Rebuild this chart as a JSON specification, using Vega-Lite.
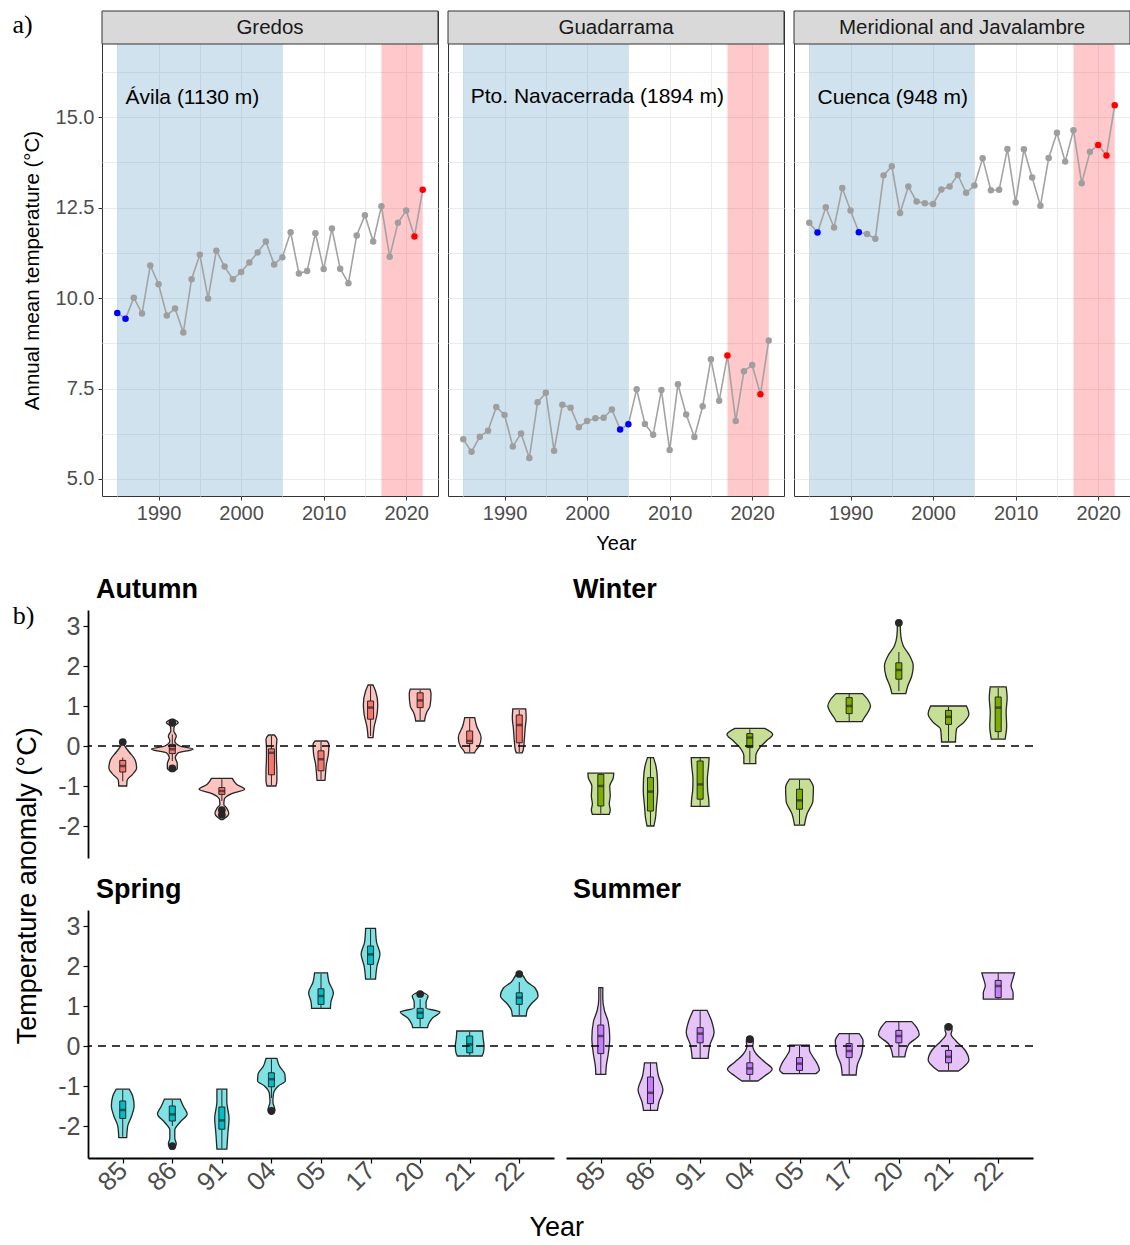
{
"$schema":"https://vega.github.io/schema/vega-lite/v6.json",
"padding":{"left":12,"top":10,"right":0,"bottom":0},
"config":{"font":"Liberation Sans","view":{"stroke":null},"axis":{"labelFont":"Liberation Sans","titleFont":"Liberation Sans"},"title":{"font":"Liberation Sans"}},
"datasets":{
"periods":[{"start":1985,"end":2005,"period":"reference"},{"start":2017,"end":2022,"period":"recent"}],
"temps":[
{"site":"Gredos","year":1985,"t":9.59,"kind":"cold"},{"site":"Gredos","year":1986,"t":9.43,"kind":"cold"},{"site":"Gredos","year":1987,"t":10.01,"kind":"other"},{"site":"Gredos","year":1988,"t":9.57,"kind":"other"},{"site":"Gredos","year":1989,"t":10.9,"kind":"other"},{"site":"Gredos","year":1990,"t":10.38,"kind":"other"},{"site":"Gredos","year":1991,"t":9.52,"kind":"other"},{"site":"Gredos","year":1992,"t":9.71,"kind":"other"},{"site":"Gredos","year":1993,"t":9.05,"kind":"other"},{"site":"Gredos","year":1994,"t":10.52,"kind":"other"},{"site":"Gredos","year":1995,"t":11.2,"kind":"other"},{"site":"Gredos","year":1996,"t":9.99,"kind":"other"},{"site":"Gredos","year":1997,"t":11.31,"kind":"other"},{"site":"Gredos","year":1998,"t":10.87,"kind":"other"},{"site":"Gredos","year":1999,"t":10.52,"kind":"other"},{"site":"Gredos","year":2000,"t":10.72,"kind":"other"},{"site":"Gredos","year":2001,"t":10.98,"kind":"other"},{"site":"Gredos","year":2002,"t":11.26,"kind":"other"},{"site":"Gredos","year":2003,"t":11.56,"kind":"other"},{"site":"Gredos","year":2004,"t":10.93,"kind":"other"},{"site":"Gredos","year":2005,"t":11.13,"kind":"other"},{"site":"Gredos","year":2006,"t":11.82,"kind":"other"},{"site":"Gredos","year":2007,"t":10.68,"kind":"other"},{"site":"Gredos","year":2008,"t":10.75,"kind":"other"},{"site":"Gredos","year":2009,"t":11.79,"kind":"other"},{"site":"Gredos","year":2010,"t":10.8,"kind":"other"},{"site":"Gredos","year":2011,"t":11.92,"kind":"other"},{"site":"Gredos","year":2012,"t":10.81,"kind":"other"},{"site":"Gredos","year":2013,"t":10.41,"kind":"other"},{"site":"Gredos","year":2014,"t":11.73,"kind":"other"},{"site":"Gredos","year":2015,"t":12.29,"kind":"other"},{"site":"Gredos","year":2016,"t":11.56,"kind":"other"},{"site":"Gredos","year":2017,"t":12.54,"kind":"other"},{"site":"Gredos","year":2018,"t":11.14,"kind":"other"},{"site":"Gredos","year":2019,"t":12.08,"kind":"other"},{"site":"Gredos","year":2020,"t":12.42,"kind":"other"},{"site":"Gredos","year":2021,"t":11.7,"kind":"warm"},{"site":"Gredos","year":2022,"t":12.99,"kind":"warm"},
{"site":"Guadarrama","year":1985,"t":6.1,"kind":"other"},{"site":"Guadarrama","year":1986,"t":5.75,"kind":"other"},{"site":"Guadarrama","year":1987,"t":6.17,"kind":"other"},{"site":"Guadarrama","year":1988,"t":6.33,"kind":"other"},{"site":"Guadarrama","year":1989,"t":6.99,"kind":"other"},{"site":"Guadarrama","year":1990,"t":6.77,"kind":"other"},{"site":"Guadarrama","year":1991,"t":5.9,"kind":"other"},{"site":"Guadarrama","year":1992,"t":6.26,"kind":"other"},{"site":"Guadarrama","year":1993,"t":5.58,"kind":"other"},{"site":"Guadarrama","year":1994,"t":7.12,"kind":"other"},{"site":"Guadarrama","year":1995,"t":7.38,"kind":"other"},{"site":"Guadarrama","year":1996,"t":5.78,"kind":"other"},{"site":"Guadarrama","year":1997,"t":7.05,"kind":"other"},{"site":"Guadarrama","year":1998,"t":6.97,"kind":"other"},{"site":"Guadarrama","year":1999,"t":6.43,"kind":"other"},{"site":"Guadarrama","year":2000,"t":6.6,"kind":"other"},{"site":"Guadarrama","year":2001,"t":6.68,"kind":"other"},{"site":"Guadarrama","year":2002,"t":6.69,"kind":"other"},{"site":"Guadarrama","year":2003,"t":6.92,"kind":"other"},{"site":"Guadarrama","year":2004,"t":6.37,"kind":"cold"},{"site":"Guadarrama","year":2005,"t":6.51,"kind":"cold"},{"site":"Guadarrama","year":2006,"t":7.48,"kind":"other"},{"site":"Guadarrama","year":2007,"t":6.52,"kind":"other"},{"site":"Guadarrama","year":2008,"t":6.22,"kind":"other"},{"site":"Guadarrama","year":2009,"t":7.46,"kind":"other"},{"site":"Guadarrama","year":2010,"t":5.8,"kind":"other"},{"site":"Guadarrama","year":2011,"t":7.62,"kind":"other"},{"site":"Guadarrama","year":2012,"t":6.78,"kind":"other"},{"site":"Guadarrama","year":2013,"t":6.16,"kind":"other"},{"site":"Guadarrama","year":2014,"t":7.01,"kind":"other"},{"site":"Guadarrama","year":2015,"t":8.31,"kind":"other"},{"site":"Guadarrama","year":2016,"t":7.16,"kind":"other"},{"site":"Guadarrama","year":2017,"t":8.41,"kind":"warm"},{"site":"Guadarrama","year":2018,"t":6.6,"kind":"other"},{"site":"Guadarrama","year":2019,"t":7.98,"kind":"other"},{"site":"Guadarrama","year":2020,"t":8.15,"kind":"other"},{"site":"Guadarrama","year":2021,"t":7.34,"kind":"warm"},{"site":"Guadarrama","year":2022,"t":8.83,"kind":"other"},
{"site":"Meridional","year":1985,"t":12.08,"kind":"other"},{"site":"Meridional","year":1986,"t":11.81,"kind":"cold"},{"site":"Meridional","year":1987,"t":12.51,"kind":"other"},{"site":"Meridional","year":1988,"t":11.95,"kind":"other"},{"site":"Meridional","year":1989,"t":13.04,"kind":"other"},{"site":"Meridional","year":1990,"t":12.42,"kind":"other"},{"site":"Meridional","year":1991,"t":11.82,"kind":"cold"},{"site":"Meridional","year":1992,"t":11.77,"kind":"other"},{"site":"Meridional","year":1993,"t":11.64,"kind":"other"},{"site":"Meridional","year":1994,"t":13.39,"kind":"other"},{"site":"Meridional","year":1995,"t":13.64,"kind":"other"},{"site":"Meridional","year":1996,"t":12.35,"kind":"other"},{"site":"Meridional","year":1997,"t":13.08,"kind":"other"},{"site":"Meridional","year":1998,"t":12.67,"kind":"other"},{"site":"Meridional","year":1999,"t":12.62,"kind":"other"},{"site":"Meridional","year":2000,"t":12.6,"kind":"other"},{"site":"Meridional","year":2001,"t":13.0,"kind":"other"},{"site":"Meridional","year":2002,"t":13.08,"kind":"other"},{"site":"Meridional","year":2003,"t":13.4,"kind":"other"},{"site":"Meridional","year":2004,"t":12.91,"kind":"other"},{"site":"Meridional","year":2005,"t":13.11,"kind":"other"},{"site":"Meridional","year":2006,"t":13.86,"kind":"other"},{"site":"Meridional","year":2007,"t":12.98,"kind":"other"},{"site":"Meridional","year":2008,"t":12.99,"kind":"other"},{"site":"Meridional","year":2009,"t":14.12,"kind":"other"},{"site":"Meridional","year":2010,"t":12.64,"kind":"other"},{"site":"Meridional","year":2011,"t":14.11,"kind":"other"},{"site":"Meridional","year":2012,"t":13.33,"kind":"other"},{"site":"Meridional","year":2013,"t":12.55,"kind":"other"},{"site":"Meridional","year":2014,"t":13.87,"kind":"other"},{"site":"Meridional","year":2015,"t":14.57,"kind":"other"},{"site":"Meridional","year":2016,"t":13.77,"kind":"other"},{"site":"Meridional","year":2017,"t":14.64,"kind":"other"},{"site":"Meridional","year":2018,"t":13.17,"kind":"other"},{"site":"Meridional","year":2019,"t":14.04,"kind":"other"},{"site":"Meridional","year":2020,"t":14.23,"kind":"warm"},{"site":"Meridional","year":2021,"t":13.94,"kind":"warm"},{"site":"Meridional","year":2022,"t":15.33,"kind":"warm"}
],
"violin":[
{"season":"Autumn","year":"85","v":0.12,"w":0.01},{"season":"Autumn","year":"85","v":0.0,"w":0.04},{"season":"Autumn","year":"85","v":-0.15,"w":0.13},{"season":"Autumn","year":"85","v":-0.35,"w":0.25},{"season":"Autumn","year":"85","v":-0.55,"w":0.28},{"season":"Autumn","year":"85","v":-0.72,"w":0.19},{"season":"Autumn","year":"85","v":-0.85,"w":0.09},{"season":"Autumn","year":"85","v":-1.0,"w":0.08},
{"season":"Autumn","year":"86","v":0.67,"w":0.02},{"season":"Autumn","year":"86","v":0.58,"w":0.12},{"season":"Autumn","year":"86","v":0.5,"w":0.04},{"season":"Autumn","year":"86","v":0.375,"w":0.03},{"season":"Autumn","year":"86","v":0.25,"w":0.08},{"season":"Autumn","year":"86","v":0.125,"w":0.05},{"season":"Autumn","year":"86","v":0.0,"w":0.15},{"season":"Autumn","year":"86","v":-0.08,"w":0.42},{"season":"Autumn","year":"86","v":-0.17,"w":0.12},{"season":"Autumn","year":"86","v":-0.29,"w":0.06},{"season":"Autumn","year":"86","v":-0.44,"w":0.1},{"season":"Autumn","year":"86","v":-0.56,"w":0.1},{"season":"Autumn","year":"86","v":-0.625,"w":0.03},
{"season":"Autumn","year":"91","v":-0.81,"w":0.21},{"season":"Autumn","year":"91","v":-0.96,"w":0.3},{"season":"Autumn","year":"91","v":-1.08,"w":0.46},{"season":"Autumn","year":"91","v":-1.19,"w":0.2},{"season":"Autumn","year":"91","v":-1.33,"w":0.05},{"season":"Autumn","year":"91","v":-1.46,"w":0.04},{"season":"Autumn","year":"91","v":-1.56,"w":0.1},{"season":"Autumn","year":"91","v":-1.69,"w":0.14},{"season":"Autumn","year":"91","v":-1.79,"w":0.08},{"season":"Autumn","year":"91","v":-1.84,"w":0.02},
{"season":"Autumn","year":"04","v":0.275,"w":0.06},{"season":"Autumn","year":"04","v":0.17,"w":0.11},{"season":"Autumn","year":"04","v":-0.04,"w":0.1},{"season":"Autumn","year":"04","v":-0.29,"w":0.1},{"season":"Autumn","year":"04","v":-0.625,"w":0.11},{"season":"Autumn","year":"04","v":-0.875,"w":0.11},{"season":"Autumn","year":"04","v":-1.0,"w":0.09},
{"season":"Autumn","year":"05","v":0.125,"w":0.12},{"season":"Autumn","year":"05","v":0.04,"w":0.16},{"season":"Autumn","year":"05","v":-0.2,"w":0.15},{"season":"Autumn","year":"05","v":-0.45,"w":0.11},{"season":"Autumn","year":"05","v":-0.7,"w":0.09},{"season":"Autumn","year":"05","v":-0.86,"w":0.08},
{"season":"Autumn","year":"17","v":1.525,"w":0.05},{"season":"Autumn","year":"17","v":1.375,"w":0.1},{"season":"Autumn","year":"17","v":1.04,"w":0.145},{"season":"Autumn","year":"17","v":0.79,"w":0.13},{"season":"Autumn","year":"17","v":0.46,"w":0.07},{"season":"Autumn","year":"17","v":0.21,"w":0.05},
{"season":"Autumn","year":"20","v":1.42,"w":0.2},{"season":"Autumn","year":"20","v":1.3,"w":0.22},{"season":"Autumn","year":"20","v":1.0,"w":0.2},{"season":"Autumn","year":"20","v":0.83,"w":0.13},{"season":"Autumn","year":"20","v":0.71,"w":0.1},{"season":"Autumn","year":"20","v":0.625,"w":0.09},
{"season":"Autumn","year":"21","v":0.71,"w":0.1},{"season":"Autumn","year":"21","v":0.5,"w":0.14},{"season":"Autumn","year":"21","v":0.21,"w":0.23},{"season":"Autumn","year":"21","v":0.0,"w":0.19},{"season":"Autumn","year":"21","v":-0.12,"w":0.12},{"season":"Autumn","year":"21","v":-0.17,"w":0.1},
{"season":"Autumn","year":"22","v":0.93,"w":0.13},{"season":"Autumn","year":"22","v":0.7,"w":0.14},{"season":"Autumn","year":"22","v":0.46,"w":0.12},{"season":"Autumn","year":"22","v":0.125,"w":0.1},{"season":"Autumn","year":"22","v":-0.1,"w":0.08},{"season":"Autumn","year":"22","v":-0.17,"w":0.06},
{"season":"Winter","year":"85","v":-0.68,"w":0.26},{"season":"Winter","year":"85","v":-0.8,"w":0.25},{"season":"Winter","year":"85","v":-1.0,"w":0.18},{"season":"Winter","year":"85","v":-1.25,"w":0.19},{"season":"Winter","year":"85","v":-1.45,"w":0.17},{"season":"Winter","year":"85","v":-1.6,"w":0.19},{"season":"Winter","year":"85","v":-1.71,"w":0.17},
{"season":"Winter","year":"86","v":-0.29,"w":0.06},{"season":"Winter","year":"86","v":-0.5,"w":0.11},{"season":"Winter","year":"86","v":-0.83,"w":0.14},{"season":"Winter","year":"86","v":-1.125,"w":0.145},{"season":"Winter","year":"86","v":-1.5,"w":0.12},{"season":"Winter","year":"86","v":-1.8,"w":0.1},{"season":"Winter","year":"86","v":-2.0,"w":0.07},
{"season":"Winter","year":"91","v":-0.29,"w":0.18},{"season":"Winter","year":"91","v":-0.5,"w":0.17},{"season":"Winter","year":"91","v":-0.83,"w":0.145},{"season":"Winter","year":"91","v":-1.1,"w":0.15},{"season":"Winter","year":"91","v":-1.3,"w":0.17},{"season":"Winter","year":"91","v":-1.51,"w":0.18},
{"season":"Winter","year":"04","v":0.44,"w":0.3},{"season":"Winter","year":"04","v":0.29,"w":0.46},{"season":"Winter","year":"04","v":0.125,"w":0.33},{"season":"Winter","year":"04","v":-0.04,"w":0.2},{"season":"Winter","year":"04","v":-0.25,"w":0.12},{"season":"Winter","year":"04","v":-0.44,"w":0.12},
{"season":"Winter","year":"05","v":-0.83,"w":0.2},{"season":"Winter","year":"05","v":-1.04,"w":0.28},{"season":"Winter","year":"05","v":-1.375,"w":0.27},{"season":"Winter","year":"05","v":-1.7,"w":0.15},{"season":"Winter","year":"05","v":-1.98,"w":0.1},
{"season":"Winter","year":"17","v":1.31,"w":0.27},{"season":"Winter","year":"17","v":1.15,"w":0.38},{"season":"Winter","year":"17","v":1.0,"w":0.43},{"season":"Winter","year":"17","v":0.85,"w":0.38},{"season":"Winter","year":"17","v":0.7,"w":0.3},{"season":"Winter","year":"17","v":0.61,"w":0.26},
{"season":"Winter","year":"20","v":3.1,"w":0.03},{"season":"Winter","year":"20","v":3.0,"w":0.03},{"season":"Winter","year":"20","v":2.75,"w":0.04},{"season":"Winter","year":"20","v":2.5,"w":0.09},{"season":"Winter","year":"20","v":2.25,"w":0.22},{"season":"Winter","year":"20","v":2.0,"w":0.29},{"season":"Winter","year":"20","v":1.75,"w":0.26},{"season":"Winter","year":"20","v":1.5,"w":0.18},{"season":"Winter","year":"20","v":1.31,"w":0.14},
{"season":"Winter","year":"21","v":1.0,"w":0.36},{"season":"Winter","year":"21","v":0.8,"w":0.41},{"season":"Winter","year":"21","v":0.58,"w":0.3},{"season":"Winter","year":"21","v":0.42,"w":0.16},{"season":"Winter","year":"21","v":0.1,"w":0.14},
{"season":"Winter","year":"22","v":1.48,"w":0.16},{"season":"Winter","year":"22","v":1.2,"w":0.18},{"season":"Winter","year":"22","v":0.85,"w":0.16},{"season":"Winter","year":"22","v":0.5,"w":0.17},{"season":"Winter","year":"22","v":0.17,"w":0.14},
{"season":"Spring","year":"85","v":-1.08,"w":0.13},{"season":"Spring","year":"85","v":-1.25,"w":0.2},{"season":"Spring","year":"85","v":-1.5,"w":0.23},{"season":"Spring","year":"85","v":-1.75,"w":0.18},{"season":"Spring","year":"85","v":-2.0,"w":0.1},{"season":"Spring","year":"85","v":-2.29,"w":0.08},
{"season":"Spring","year":"86","v":-1.33,"w":0.16},{"season":"Spring","year":"86","v":-1.5,"w":0.22},{"season":"Spring","year":"86","v":-1.7,"w":0.3},{"season":"Spring","year":"86","v":-1.9,"w":0.16},{"season":"Spring","year":"86","v":-2.1,"w":0.05},{"season":"Spring","year":"86","v":-2.3,"w":0.05},{"season":"Spring","year":"86","v":-2.45,"w":0.08},{"season":"Spring","year":"86","v":-2.58,"w":0.03},
{"season":"Spring","year":"91","v":-1.08,"w":0.1},{"season":"Spring","year":"91","v":-1.4,"w":0.1},{"season":"Spring","year":"91","v":-1.8,"w":0.145},{"season":"Spring","year":"91","v":-2.2,"w":0.12},{"season":"Spring","year":"91","v":-2.58,"w":0.1},
{"season":"Spring","year":"04","v":-0.31,"w":0.11},{"season":"Spring","year":"04","v":-0.5,"w":0.16},{"season":"Spring","year":"04","v":-0.7,"w":0.27},{"season":"Spring","year":"04","v":-0.875,"w":0.28},{"season":"Spring","year":"04","v":-1.0,"w":0.14},{"season":"Spring","year":"04","v":-1.2,"w":0.04},{"season":"Spring","year":"04","v":-1.4,"w":0.03},{"season":"Spring","year":"04","v":-1.6,"w":0.07},{"season":"Spring","year":"04","v":-1.7,"w":0.02},
{"season":"Spring","year":"05","v":1.83,"w":0.13},{"season":"Spring","year":"05","v":1.6,"w":0.16},{"season":"Spring","year":"05","v":1.33,"w":0.25},{"season":"Spring","year":"05","v":1.1,"w":0.2},{"season":"Spring","year":"05","v":0.94,"w":0.19},
{"season":"Spring","year":"17","v":2.94,"w":0.1},{"season":"Spring","year":"17","v":2.6,"w":0.12},{"season":"Spring","year":"17","v":2.3,"w":0.19},{"season":"Spring","year":"17","v":2.0,"w":0.13},{"season":"Spring","year":"17","v":1.67,"w":0.1},
{"season":"Spring","year":"20","v":1.35,"w":0.03},{"season":"Spring","year":"20","v":1.25,"w":0.16},{"season":"Spring","year":"20","v":1.1,"w":0.12},{"season":"Spring","year":"20","v":0.95,"w":0.12},{"season":"Spring","year":"20","v":0.85,"w":0.4},{"season":"Spring","year":"20","v":0.7,"w":0.25},{"season":"Spring","year":"20","v":0.55,"w":0.17},{"season":"Spring","year":"20","v":0.46,"w":0.15},
{"season":"Spring","year":"21","v":0.375,"w":0.26},{"season":"Spring","year":"21","v":0.2,"w":0.27},{"season":"Spring","year":"21","v":0.0,"w":0.29},{"season":"Spring","year":"21","v":-0.15,"w":0.28},{"season":"Spring","year":"21","v":-0.25,"w":0.25},
{"season":"Spring","year":"22","v":1.83,"w":0.03},{"season":"Spring","year":"22","v":1.75,"w":0.08},{"season":"Spring","year":"22","v":1.6,"w":0.16},{"season":"Spring","year":"22","v":1.45,"w":0.32},{"season":"Spring","year":"22","v":1.25,"w":0.38},{"season":"Spring","year":"22","v":1.05,"w":0.24},{"season":"Spring","year":"22","v":0.9,"w":0.16},{"season":"Spring","year":"22","v":0.75,"w":0.14},
{"season":"Summer","year":"85","v":1.46,"w":0.04},{"season":"Summer","year":"85","v":1.2,"w":0.04},{"season":"Summer","year":"85","v":0.9,"w":0.07},{"season":"Summer","year":"85","v":0.6,"w":0.15},{"season":"Summer","year":"85","v":0.2,"w":0.18},{"season":"Summer","year":"85","v":-0.2,"w":0.15},{"season":"Summer","year":"85","v":-0.5,"w":0.11},{"season":"Summer","year":"85","v":-0.71,"w":0.1},
{"season":"Summer","year":"86","v":-0.42,"w":0.12},{"season":"Summer","year":"86","v":-0.75,"w":0.16},{"season":"Summer","year":"86","v":-1.1,"w":0.25},{"season":"Summer","year":"86","v":-1.4,"w":0.17},{"season":"Summer","year":"86","v":-1.61,"w":0.14},
{"season":"Summer","year":"91","v":0.89,"w":0.14},{"season":"Summer","year":"91","v":0.625,"w":0.23},{"season":"Summer","year":"91","v":0.33,"w":0.28},{"season":"Summer","year":"91","v":0.04,"w":0.2},{"season":"Summer","year":"91","v":-0.31,"w":0.16},
{"season":"Summer","year":"04","v":0.2,"w":0.06},{"season":"Summer","year":"04","v":0.1,"w":0.07},{"season":"Summer","year":"04","v":0.0,"w":0.06},{"season":"Summer","year":"04","v":-0.2,"w":0.13},{"season":"Summer","year":"04","v":-0.4,"w":0.3},{"season":"Summer","year":"04","v":-0.58,"w":0.45},{"season":"Summer","year":"04","v":-0.75,"w":0.3},{"season":"Summer","year":"04","v":-0.875,"w":0.16},
{"season":"Summer","year":"05","v":0.02,"w":0.2},{"season":"Summer","year":"05","v":-0.1,"w":0.2},{"season":"Summer","year":"05","v":-0.25,"w":0.26},{"season":"Summer","year":"05","v":-0.45,"w":0.36},{"season":"Summer","year":"05","v":-0.6,"w":0.4},{"season":"Summer","year":"05","v":-0.69,"w":0.33},
{"season":"Summer","year":"17","v":0.31,"w":0.2},{"season":"Summer","year":"17","v":0.125,"w":0.28},{"season":"Summer","year":"17","v":-0.2,"w":0.25},{"season":"Summer","year":"17","v":-0.45,"w":0.17},{"season":"Summer","year":"17","v":-0.725,"w":0.14},
{"season":"Summer","year":"20","v":0.61,"w":0.26},{"season":"Summer","year":"20","v":0.46,"w":0.36},{"season":"Summer","year":"20","v":0.29,"w":0.41},{"season":"Summer","year":"20","v":0.04,"w":0.2},{"season":"Summer","year":"20","v":-0.27,"w":0.12},
{"season":"Summer","year":"21","v":0.5,"w":0.07},{"season":"Summer","year":"21","v":0.4,"w":0.07},{"season":"Summer","year":"21","v":0.3,"w":0.05},{"season":"Summer","year":"21","v":0.125,"w":0.15},{"season":"Summer","year":"21","v":-0.1,"w":0.33},{"season":"Summer","year":"21","v":-0.35,"w":0.41},{"season":"Summer","year":"21","v":-0.55,"w":0.28},{"season":"Summer","year":"21","v":-0.625,"w":0.2},
{"season":"Summer","year":"22","v":1.83,"w":0.33},{"season":"Summer","year":"22","v":1.7,"w":0.3},{"season":"Summer","year":"22","v":1.5,"w":0.26},{"season":"Summer","year":"22","v":1.33,"w":0.3},{"season":"Summer","year":"22","v":1.17,"w":0.3}
],
"box":[
{"season":"Autumn","year":"85","lw":-0.88,"q1":-0.65,"med":-0.5,"q3":-0.36,"uw":-0.29},{"season":"Autumn","year":"86","lw":-0.375,"q1":-0.19,"med":-0.08,"q3":0.04,"uw":0.29},{"season":"Autumn","year":"91","lw":-1.375,"q1":-1.21,"med":-1.125,"q3":-1.04,"uw":-0.83},{"season":"Autumn","year":"04","lw":-0.98,"q1":-0.72,"med":-0.17,"q3":-0.07,"uw":0.25},{"season":"Autumn","year":"05","lw":-0.84,"q1":-0.62,"med":-0.33,"q3":-0.12,"uw":0.1},{"season":"Autumn","year":"17","lw":0.25,"q1":0.67,"med":0.96,"q3":1.125,"uw":1.5},{"season":"Autumn","year":"20","lw":0.65,"q1":0.96,"med":1.14,"q3":1.33,"uw":1.4},{"season":"Autumn","year":"21","lw":-0.15,"q1":0.06,"med":0.125,"q3":0.375,"uw":0.69},{"season":"Autumn","year":"22","lw":-0.15,"q1":0.08,"med":0.525,"q3":0.775,"uw":0.9},
{"season":"Winter","year":"85","lw":-1.69,"q1":-1.5,"med":-1.0,"q3":-0.71,"uw":-0.7},{"season":"Winter","year":"86","lw":-1.98,"q1":-1.625,"med":-1.14,"q3":-0.79,"uw":-0.3},{"season":"Winter","year":"91","lw":-1.5,"q1":-1.33,"med":-0.96,"q3":-0.375,"uw":-0.3},{"season":"Winter","year":"04","lw":-0.42,"q1":-0.04,"med":0.21,"q3":0.31,"uw":0.42},{"season":"Winter","year":"05","lw":-1.96,"q1":-1.58,"med":-1.36,"q3":-1.08,"uw":-0.85},{"season":"Winter","year":"17","lw":0.62,"q1":0.81,"med":1.0,"q3":1.21,"uw":1.3},{"season":"Winter","year":"20","lw":1.375,"q1":1.67,"med":1.9,"q3":2.08,"uw":2.35},{"season":"Winter","year":"21","lw":0.12,"q1":0.54,"med":0.73,"q3":0.89,"uw":0.98},{"season":"Winter","year":"22","lw":0.19,"q1":0.36,"med":0.96,"q3":1.225,"uw":1.46},
{"season":"Spring","year":"85","lw":-2.27,"q1":-1.81,"med":-1.6,"q3":-1.375,"uw":-1.1},{"season":"Spring","year":"86","lw":-2.0,"q1":-1.875,"med":-1.71,"q3":-1.5,"uw":-1.35},{"season":"Spring","year":"91","lw":-2.56,"q1":-2.08,"med":-1.86,"q3":-1.525,"uw":-1.1},{"season":"Spring","year":"04","lw":-1.3,"q1":-1.02,"med":-0.83,"q3":-0.67,"uw":-0.33},{"season":"Spring","year":"05","lw":0.95,"q1":1.04,"med":1.25,"q3":1.43,"uw":1.81},{"season":"Spring","year":"17","lw":1.69,"q1":2.04,"med":2.29,"q3":2.5,"uw":2.92},{"season":"Spring","year":"20","lw":0.48,"q1":0.69,"med":0.83,"q3":0.94,"uw":1.17},{"season":"Spring","year":"21","lw":-0.23,"q1":-0.17,"med":0.04,"q3":0.25,"uw":0.36},{"season":"Spring","year":"22","lw":0.77,"q1":1.04,"med":1.21,"q3":1.33,"uw":1.6},
{"season":"Summer","year":"85","lw":-0.7,"q1":-0.19,"med":0.25,"q3":0.525,"uw":1.45},{"season":"Summer","year":"86","lw":-1.6,"q1":-1.44,"med":-1.17,"q3":-0.775,"uw":-0.43},{"season":"Summer","year":"91","lw":-0.3,"q1":0.08,"med":0.31,"q3":0.46,"uw":0.87},{"season":"Summer","year":"04","lw":-0.86,"q1":-0.71,"med":-0.56,"q3":-0.42,"uw":-0.125},{"season":"Summer","year":"05","lw":-0.68,"q1":-0.61,"med":-0.44,"q3":-0.29,"uw":0.0},{"season":"Summer","year":"17","lw":-0.71,"q1":-0.29,"med":-0.125,"q3":0.06,"uw":0.3},{"season":"Summer","year":"20","lw":-0.26,"q1":0.08,"med":0.25,"q3":0.39,"uw":0.6},{"season":"Summer","year":"21","lw":-0.61,"q1":-0.42,"med":-0.27,"q3":-0.11,"uw":0.0},{"season":"Summer","year":"22","lw":1.18,"q1":1.21,"med":1.5,"q3":1.64,"uw":1.82}
],
"outliers":[
{"season":"Autumn","year":"85","v":0.1},{"season":"Autumn","year":"86","v":0.58},{"season":"Autumn","year":"86","v":-0.56},{"season":"Autumn","year":"91","v":-1.6},{"season":"Autumn","year":"91","v":-1.72},
{"season":"Winter","year":"20","v":3.08},
{"season":"Spring","year":"86","v":-2.5},{"season":"Spring","year":"04","v":-1.62},{"season":"Spring","year":"20","v":1.3},{"season":"Spring","year":"22","v":1.8},
{"season":"Summer","year":"04","v":0.17},{"season":"Summer","year":"21","v":0.48}
]
},
"spacing":22,
"vconcat":[
{"bounds":"flush","spacing":10,
 "title":{"text":"a)","orient":"top","anchor":"start","font":"Liberation Serif","fontSize":26,"fontWeight":"normal","color":"black","offset":-28,"dx":-9},
 "hconcat":[
 {"width":4,"height":10,"data":{"values":[{"blank":""}]},"mark":{"type":"text"},"encoding":{"text":{"field":"blank"}}},
 {"width":336,"height":485,"view":{"stroke":"#333333","strokeWidth":1},
  "resolve":{"axis":{"x":"independent","y":"independent"},"scale":{"color":"independent"}},
  "layer":[
   {"data":{"name":"periods"},"mark":{"type":"rect","opacity":0.3},"encoding":{"x":{"field":"start","type":"quantitative","scale":{"domain":[1983.15,2023.85],"nice":false,"zero":false},"axis":{"orient":"top","values":[1985,1990,1995,2000,2005,2010,2015,2020],"grid":true,"gridColor":"#EBEBEB","gridWidth":1,"labels":false,"ticks":false,"domain":false,"title":null}},"x2":{"field":"end"},"color":{"field":"period","type":"nominal","scale":{"domain":["reference","recent"],"range":["#629EC6","#FF4852"]},"legend":null}}},
   {"data":{"name":"temps"},"transform":[{"filter":"datum.site === 'Gredos'"}],"mark":{"type":"line","color":"#A3A3A3","strokeWidth":1.6},"encoding":{"x":{"field":"year","type":"quantitative","scale":{"domain":[1983.15,2023.85],"nice":false,"zero":false},"axis":{"orient":"bottom","values":[1990,2000,2010,2020],"format":"d","grid":false,"domain":false,"tickColor":"#333333","tickSize":4,"labelFontSize":20,"labelColor":"#4D4D4D","labelPadding":3,"title":null}},"y":{"field":"t","type":"quantitative","scale":{"domain":[4.53,17.932],"nice":false,"zero":false},"axis":{"orient":"left","values":[5,7.5,10,12.5,15],"format":".1f","grid":false,"domain":false,"tickColor":"#333333","tickSize":4,"labelFontSize":20,"labelColor":"#4D4D4D","labelPadding":4,"title":"Annual mean temperature (°C)","titleFontSize":20.5,"titleFontWeight":"normal","titleColor":"black","titlePadding":13,"titleY":259}}}},
   {"data":{"name":"temps"},"transform":[{"filter":"datum.site === 'Gredos'"}],"mark":{"type":"point","filled":true,"size":42,"opacity":1},"encoding":{"x":{"field":"year","type":"quantitative","scale":{"domain":[1983.15,2023.85],"nice":false,"zero":false},"axis":null},"y":{"field":"t","type":"quantitative","scale":{"domain":[4.53,17.932],"nice":false,"zero":false},"axis":{"orient":"right","values":[5,6.25,7.5,8.75,10,11.25,12.5,13.75,15,16.25],"grid":true,"gridColor":"#EBEBEB","gridWidth":1,"labels":false,"ticks":false,"domain":false,"title":null}},"color":{"field":"kind","type":"nominal","scale":{"domain":["cold","other","warm"],"range":["#0000FF","#9E9E9E","#FF0000"]},"legend":null}}},
   {"data":{"values":[{"region":"Gredos"}]},"mark":{"type":"rect","fill":"#D9D9D9","stroke":"#333333","strokeWidth":1},"encoding":{"y":{"datum":17.02,"type":"quantitative","axis":null},"y2":{"datum":17.932}}},
   {"data":{"values":[{"region":"Gredos"}]},"mark":{"type":"text","fontSize":20.5,"color":"#1A1A1A","baseline":"middle","align":"center"},"encoding":{"x":{"datum":2003.5,"type":"quantitative","axis":null},"y":{"datum":17.476,"type":"quantitative","axis":null},"text":{"field":"region"}}},
   {"data":{"values":[{"station":"Ávila (1130 m)"}]},"mark":{"type":"text","align":"left","baseline":"middle","fontSize":21,"color":"black"},"encoding":{"x":{"datum":1986,"type":"quantitative","axis":null},"y":{"datum":15.53,"type":"quantitative","axis":null},"text":{"field":"station"}}}
  ]},
 {"width":336,"height":485,"view":{"stroke":"#333333","strokeWidth":1},
  "resolve":{"axis":{"x":"independent","y":"independent"},"scale":{"color":"independent"}},
  "layer":[
   {"data":{"name":"periods"},"mark":{"type":"rect","opacity":0.3},"encoding":{"x":{"field":"start","type":"quantitative","scale":{"domain":[1983.15,2023.85],"nice":false,"zero":false},"axis":{"orient":"top","values":[1985,1990,1995,2000,2005,2010,2015,2020],"grid":true,"gridColor":"#EBEBEB","gridWidth":1,"labels":false,"ticks":false,"domain":false,"title":null}},"x2":{"field":"end"},"color":{"field":"period","type":"nominal","scale":{"domain":["reference","recent"],"range":["#629EC6","#FF4852"]},"legend":null}}},
   {"data":{"name":"temps"},"transform":[{"filter":"datum.site === 'Guadarrama'"}],"mark":{"type":"line","color":"#A3A3A3","strokeWidth":1.6},"encoding":{"x":{"field":"year","type":"quantitative","scale":{"domain":[1983.15,2023.85],"nice":false,"zero":false},"axis":{"orient":"bottom","values":[1990,2000,2010,2020],"format":"d","grid":false,"domain":false,"tickColor":"#333333","tickSize":4,"labelFontSize":20,"labelColor":"#4D4D4D","labelPadding":3,"title":"Year","titleFontSize":20,"titleFontWeight":"normal","titleColor":"black","titlePadding":10}},"y":{"field":"t","type":"quantitative","scale":{"domain":[4.53,17.932],"nice":false,"zero":false},"axis":null}}},
   {"data":{"name":"temps"},"transform":[{"filter":"datum.site === 'Guadarrama'"}],"mark":{"type":"point","filled":true,"size":42,"opacity":1},"encoding":{"x":{"field":"year","type":"quantitative","scale":{"domain":[1983.15,2023.85],"nice":false,"zero":false},"axis":null},"y":{"field":"t","type":"quantitative","scale":{"domain":[4.53,17.932],"nice":false,"zero":false},"axis":{"orient":"right","values":[5,6.25,7.5,8.75,10,11.25,12.5,13.75,15,16.25],"grid":true,"gridColor":"#EBEBEB","gridWidth":1,"labels":false,"ticks":false,"domain":false,"title":null}},"color":{"field":"kind","type":"nominal","scale":{"domain":["cold","other","warm"],"range":["#0000FF","#9E9E9E","#FF0000"]},"legend":null}}},
   {"data":{"values":[{"region":"Guadarrama"}]},"mark":{"type":"rect","fill":"#D9D9D9","stroke":"#333333","strokeWidth":1},"encoding":{"y":{"datum":17.02,"type":"quantitative","axis":null},"y2":{"datum":17.932}}},
   {"data":{"values":[{"region":"Guadarrama"}]},"mark":{"type":"text","fontSize":20.5,"color":"#1A1A1A","baseline":"middle","align":"center"},"encoding":{"x":{"datum":2003.5,"type":"quantitative","axis":null},"y":{"datum":17.476,"type":"quantitative","axis":null},"text":{"field":"region"}}},
   {"data":{"values":[{"station":"Pto. Navacerrada (1894 m)"}]},"mark":{"type":"text","align":"left","baseline":"middle","fontSize":21,"color":"black"},"encoding":{"x":{"datum":1985.9,"type":"quantitative","axis":null},"y":{"datum":15.55,"type":"quantitative","axis":null},"text":{"field":"station"}}}
  ]},
 {"width":336,"height":485,"view":{"stroke":"#333333","strokeWidth":1},
  "resolve":{"axis":{"x":"independent","y":"independent"},"scale":{"color":"independent"}},
  "layer":[
   {"data":{"name":"periods"},"mark":{"type":"rect","opacity":0.3},"encoding":{"x":{"field":"start","type":"quantitative","scale":{"domain":[1983.15,2023.85],"nice":false,"zero":false},"axis":{"orient":"top","values":[1985,1990,1995,2000,2005,2010,2015,2020],"grid":true,"gridColor":"#EBEBEB","gridWidth":1,"labels":false,"ticks":false,"domain":false,"title":null}},"x2":{"field":"end"},"color":{"field":"period","type":"nominal","scale":{"domain":["reference","recent"],"range":["#629EC6","#FF4852"]},"legend":null}}},
   {"data":{"name":"temps"},"transform":[{"filter":"datum.site === 'Meridional'"}],"mark":{"type":"line","color":"#A3A3A3","strokeWidth":1.6},"encoding":{"x":{"field":"year","type":"quantitative","scale":{"domain":[1983.15,2023.85],"nice":false,"zero":false},"axis":{"orient":"bottom","values":[1990,2000,2010,2020],"format":"d","grid":false,"domain":false,"tickColor":"#333333","tickSize":4,"labelFontSize":20,"labelColor":"#4D4D4D","labelPadding":3,"title":null}},"y":{"field":"t","type":"quantitative","scale":{"domain":[4.53,17.932],"nice":false,"zero":false},"axis":null}}},
   {"data":{"name":"temps"},"transform":[{"filter":"datum.site === 'Meridional'"}],"mark":{"type":"point","filled":true,"size":42,"opacity":1},"encoding":{"x":{"field":"year","type":"quantitative","scale":{"domain":[1983.15,2023.85],"nice":false,"zero":false},"axis":null},"y":{"field":"t","type":"quantitative","scale":{"domain":[4.53,17.932],"nice":false,"zero":false},"axis":{"orient":"right","values":[5,6.25,7.5,8.75,10,11.25,12.5,13.75,15,16.25],"grid":true,"gridColor":"#EBEBEB","gridWidth":1,"labels":false,"ticks":false,"domain":false,"title":null}},"color":{"field":"kind","type":"nominal","scale":{"domain":["cold","other","warm"],"range":["#0000FF","#9E9E9E","#FF0000"]},"legend":null}}},
   {"data":{"values":[{"region":"Meridional and Javalambre"}]},"mark":{"type":"rect","fill":"#D9D9D9","stroke":"#333333","strokeWidth":1},"encoding":{"y":{"datum":17.02,"type":"quantitative","axis":null},"y2":{"datum":17.932}}},
   {"data":{"values":[{"region":"Meridional and Javalambre"}]},"mark":{"type":"text","fontSize":20.5,"color":"#1A1A1A","baseline":"middle","align":"center"},"encoding":{"x":{"datum":2003.5,"type":"quantitative","axis":null},"y":{"datum":17.476,"type":"quantitative","axis":null},"text":{"field":"region"}}},
   {"data":{"values":[{"station":"Cuenca (948 m)"}]},"mark":{"type":"text","align":"left","baseline":"middle","fontSize":21,"color":"black"},"encoding":{"x":{"datum":1986,"type":"quantitative","axis":null},"y":{"datum":15.53,"type":"quantitative","axis":null},"text":{"field":"station"}}}
  ]}
]},
{"title":{"text":"b)","orient":"top","anchor":"start","font":"Liberation Serif","fontSize":26,"fontWeight":"normal","color":"black","offset":-53,"dx":-1},
 "vconcat":[
 {"title":{"text":"Year","orient":"bottom","anchor":"middle","fontSize":27,"fontWeight":"normal","color":"black","offset":19,"dx":33},
  "vconcat":[
  {"spacing":18,
   "title":{"text":"Temperature anomaly (°C)","orient":"left","anchor":"middle","fontSize":27,"fontWeight":"normal","color":"black","offset":16},
   "vconcat":[
   {"bounds":"flush","spacing":12,"hconcat":[
    {"width":466,"height":248,"title":{"text":"Autumn","anchor":"start","frame":"group","fontSize":27,"fontWeight":"bold","color":"black","offset":6,"dx":8},
     "resolve":{"axis":{"x":"independent","y":"independent"}},
     "layer":[
      {"data":{"name":"violin"},"transform":[{"filter":"datum.season === 'Autumn'"},{"calculate":"indexof(['85','86','91','04','05','17','20','21','22'], datum.year) + 1","as":"pos"},{"calculate":"datum.pos - datum.w","as":"lo"},{"calculate":"datum.pos + datum.w","as":"hi"}],
       "mark":{"type":"area","orient":"horizontal","interpolate":"monotone","fill":"#FCC3BF","stroke":"#262626","strokeWidth":1.3},
       "encoding":{"y":{"field":"v","type":"quantitative","scale":{"domain":[-2.8,3.4],"nice":false,"zero":false},"axis":{"orient":"left","values":[-2,-1,0,1,2,3],"labelExpr":"'' + datum.value","grid":false,"domain":true,"domainColor":"black","domainWidth":1.8,"ticks":true,"tickColor":"black","tickSize":5,"tickWidth":1.2,"labels":true,"labelFontSize":25,"labelColor":"#4D4D4D","labelPadding":3,"title":null}},"x":{"field":"lo","type":"quantitative","scale":{"domain":[0.4,9.6],"nice":false,"zero":false},"axis":null,"stack":null},"x2":{"field":"hi"},"detail":{"field":"year","type":"nominal"}}},
      {"data":{"name":"box"},"transform":[{"filter":"datum.season === 'Autumn'"},{"calculate":"indexof(['85','86','91','04','05','17','20','21','22'], datum.year) + 1","as":"pos"}],"mark":{"type":"rule","color":"#262626","strokeWidth":1},"encoding":{"x":{"field":"pos","type":"quantitative","scale":{"domain":[0.4,9.6],"nice":false,"zero":false},"axis":null},"y":{"field":"lw","type":"quantitative","scale":{"domain":[-2.8,3.4],"nice":false,"zero":false},"axis":null},"y2":{"field":"uw"}}},
      {"data":{"name":"box"},"transform":[{"filter":"datum.season === 'Autumn'"},{"calculate":"indexof(['85','86','91','04','05','17','20','21','22'], datum.year) + 1","as":"pos"}],"mark":{"type":"bar","size":6,"fill":"#F8766D","stroke":"#262626","strokeWidth":1},"encoding":{"x":{"field":"pos","type":"quantitative","scale":{"domain":[0.4,9.6],"nice":false,"zero":false},"axis":null},"y":{"field":"q1","type":"quantitative","scale":{"domain":[-2.8,3.4],"nice":false,"zero":false},"axis":null},"y2":{"field":"q3"}}},
      {"data":{"name":"box"},"transform":[{"filter":"datum.season === 'Autumn'"},{"calculate":"indexof(['85','86','91','04','05','17','20','21','22'], datum.year) + 1","as":"pos"}],"mark":{"type":"tick","orient":"horizontal","size":6,"thickness":2.5,"color":"#262626"},"encoding":{"x":{"field":"pos","type":"quantitative","scale":{"domain":[0.4,9.6],"nice":false,"zero":false},"axis":null},"y":{"field":"med","type":"quantitative","scale":{"domain":[-2.8,3.4],"nice":false,"zero":false},"axis":null}}},
      {"data":{"name":"outliers"},"transform":[{"filter":"datum.season === 'Autumn'"},{"calculate":"indexof(['85','86','91','04','05','17','20','21','22'], datum.year) + 1","as":"pos"}],"mark":{"type":"point","filled":true,"size":60,"color":"#262626","opacity":1},"encoding":{"x":{"field":"pos","type":"quantitative","scale":{"domain":[0.4,9.6],"nice":false,"zero":false},"axis":null},"y":{"field":"v","type":"quantitative","scale":{"domain":[-2.8,3.4],"nice":false,"zero":false},"axis":null}}},
      {"data":{"values":[{"ref":0}]},"mark":{"type":"rule","strokeDash":[8,6],"strokeWidth":1.5,"color":"black"},"encoding":{"y":{"field":"ref","type":"quantitative","scale":{"domain":[-2.8,3.4],"nice":false,"zero":false},"axis":null}}}
     ]},
    {"width":467,"height":248,"title":{"text":"Winter","anchor":"start","frame":"group","fontSize":27,"fontWeight":"bold","color":"black","offset":6,"dx":7},
     "resolve":{"axis":{"x":"independent","y":"independent"}},
     "layer":[
      {"data":{"name":"violin"},"transform":[{"filter":"datum.season === 'Winter'"},{"calculate":"indexof(['85','86','91','04','05','17','20','21','22'], datum.year) + 1","as":"pos"},{"calculate":"datum.pos - datum.w","as":"lo"},{"calculate":"datum.pos + datum.w","as":"hi"}],
       "mark":{"type":"area","orient":"horizontal","interpolate":"monotone","fill":"#C6DF94","stroke":"#262626","strokeWidth":1.3},
       "encoding":{"y":{"field":"v","type":"quantitative","scale":{"domain":[-2.8,3.4],"nice":false,"zero":false},"axis":null},"x":{"field":"lo","type":"quantitative","scale":{"domain":[0.4,9.6],"nice":false,"zero":false},"axis":null,"stack":null},"x2":{"field":"hi"},"detail":{"field":"year","type":"nominal"}}},
      {"data":{"name":"box"},"transform":[{"filter":"datum.season === 'Winter'"},{"calculate":"indexof(['85','86','91','04','05','17','20','21','22'], datum.year) + 1","as":"pos"}],"mark":{"type":"rule","color":"#262626","strokeWidth":1},"encoding":{"x":{"field":"pos","type":"quantitative","scale":{"domain":[0.4,9.6],"nice":false,"zero":false},"axis":null},"y":{"field":"lw","type":"quantitative","scale":{"domain":[-2.8,3.4],"nice":false,"zero":false},"axis":null},"y2":{"field":"uw"}}},
      {"data":{"name":"box"},"transform":[{"filter":"datum.season === 'Winter'"},{"calculate":"indexof(['85','86','91','04','05','17','20','21','22'], datum.year) + 1","as":"pos"}],"mark":{"type":"bar","size":6,"fill":"#7CAE00","stroke":"#262626","strokeWidth":1},"encoding":{"x":{"field":"pos","type":"quantitative","scale":{"domain":[0.4,9.6],"nice":false,"zero":false},"axis":null},"y":{"field":"q1","type":"quantitative","scale":{"domain":[-2.8,3.4],"nice":false,"zero":false},"axis":null},"y2":{"field":"q3"}}},
      {"data":{"name":"box"},"transform":[{"filter":"datum.season === 'Winter'"},{"calculate":"indexof(['85','86','91','04','05','17','20','21','22'], datum.year) + 1","as":"pos"}],"mark":{"type":"tick","orient":"horizontal","size":6,"thickness":2.5,"color":"#262626"},"encoding":{"x":{"field":"pos","type":"quantitative","scale":{"domain":[0.4,9.6],"nice":false,"zero":false},"axis":null},"y":{"field":"med","type":"quantitative","scale":{"domain":[-2.8,3.4],"nice":false,"zero":false},"axis":null}}},
      {"data":{"name":"outliers"},"transform":[{"filter":"datum.season === 'Winter'"},{"calculate":"indexof(['85','86','91','04','05','17','20','21','22'], datum.year) + 1","as":"pos"}],"mark":{"type":"point","filled":true,"size":60,"color":"#262626","opacity":1},"encoding":{"x":{"field":"pos","type":"quantitative","scale":{"domain":[0.4,9.6],"nice":false,"zero":false},"axis":null},"y":{"field":"v","type":"quantitative","scale":{"domain":[-2.8,3.4],"nice":false,"zero":false},"axis":null}}},
      {"data":{"values":[{"ref":0}]},"mark":{"type":"rule","strokeDash":[8,6],"strokeWidth":1.5,"color":"black"},"encoding":{"y":{"field":"ref","type":"quantitative","scale":{"domain":[-2.8,3.4],"nice":false,"zero":false},"axis":null}}}
     ]}
   ]},
   {"bounds":"flush","spacing":12,"hconcat":[
    {"width":466,"height":248,"title":{"text":"Spring","anchor":"start","frame":"group","fontSize":27,"fontWeight":"bold","color":"black","offset":6,"dx":8},
     "resolve":{"axis":{"x":"independent","y":"independent"}},
     "layer":[
      {"data":{"name":"violin"},"transform":[{"filter":"datum.season === 'Spring'"},{"calculate":"indexof(['85','86','91','04','05','17','20','21','22'], datum.year) + 1","as":"pos"},{"calculate":"datum.pos - datum.w","as":"lo"},{"calculate":"datum.pos + datum.w","as":"hi"}],
       "mark":{"type":"area","orient":"horizontal","interpolate":"monotone","fill":"#80E2E4","stroke":"#262626","strokeWidth":1.3},
       "encoding":{"y":{"field":"v","type":"quantitative","scale":{"domain":[-2.8,3.4],"nice":false,"zero":false},"axis":{"orient":"left","values":[-2,-1,0,1,2,3],"labelExpr":"'' + datum.value","grid":false,"domain":true,"domainColor":"black","domainWidth":1.8,"ticks":true,"tickColor":"black","tickSize":5,"tickWidth":1.2,"labels":true,"labelFontSize":25,"labelColor":"#4D4D4D","labelPadding":3,"title":null}},"x":{"field":"lo","type":"quantitative","scale":{"domain":[0.4,9.6],"nice":false,"zero":false},"axis":{"orient":"bottom","values":[1,2,3,4,5,6,7,8,9],"labelExpr":"['85','86','91','04','05','17','20','21','22'][datum.value - 1]","labelAngle":-45,"labelAlign":"right","labelBaseline":"middle","labelFontSize":26,"labelColor":"#4D4D4D","labelPadding":3,"grid":false,"domain":true,"domainColor":"black","domainWidth":1.8,"ticks":true,"tickColor":"black","tickSize":5,"tickWidth":1.2,"labels":true,"title":null},"stack":null},"x2":{"field":"hi"},"detail":{"field":"year","type":"nominal"}}},
      {"data":{"name":"box"},"transform":[{"filter":"datum.season === 'Spring'"},{"calculate":"indexof(['85','86','91','04','05','17','20','21','22'], datum.year) + 1","as":"pos"}],"mark":{"type":"rule","color":"#262626","strokeWidth":1},"encoding":{"x":{"field":"pos","type":"quantitative","scale":{"domain":[0.4,9.6],"nice":false,"zero":false},"axis":null},"y":{"field":"lw","type":"quantitative","scale":{"domain":[-2.8,3.4],"nice":false,"zero":false},"axis":null},"y2":{"field":"uw"}}},
      {"data":{"name":"box"},"transform":[{"filter":"datum.season === 'Spring'"},{"calculate":"indexof(['85','86','91','04','05','17','20','21','22'], datum.year) + 1","as":"pos"}],"mark":{"type":"bar","size":6,"fill":"#00BFC4","stroke":"#262626","strokeWidth":1},"encoding":{"x":{"field":"pos","type":"quantitative","scale":{"domain":[0.4,9.6],"nice":false,"zero":false},"axis":null},"y":{"field":"q1","type":"quantitative","scale":{"domain":[-2.8,3.4],"nice":false,"zero":false},"axis":null},"y2":{"field":"q3"}}},
      {"data":{"name":"box"},"transform":[{"filter":"datum.season === 'Spring'"},{"calculate":"indexof(['85','86','91','04','05','17','20','21','22'], datum.year) + 1","as":"pos"}],"mark":{"type":"tick","orient":"horizontal","size":6,"thickness":2.5,"color":"#262626"},"encoding":{"x":{"field":"pos","type":"quantitative","scale":{"domain":[0.4,9.6],"nice":false,"zero":false},"axis":null},"y":{"field":"med","type":"quantitative","scale":{"domain":[-2.8,3.4],"nice":false,"zero":false},"axis":null}}},
      {"data":{"name":"outliers"},"transform":[{"filter":"datum.season === 'Spring'"},{"calculate":"indexof(['85','86','91','04','05','17','20','21','22'], datum.year) + 1","as":"pos"}],"mark":{"type":"point","filled":true,"size":60,"color":"#262626","opacity":1},"encoding":{"x":{"field":"pos","type":"quantitative","scale":{"domain":[0.4,9.6],"nice":false,"zero":false},"axis":null},"y":{"field":"v","type":"quantitative","scale":{"domain":[-2.8,3.4],"nice":false,"zero":false},"axis":null}}},
      {"data":{"values":[{"ref":0}]},"mark":{"type":"rule","strokeDash":[8,6],"strokeWidth":1.5,"color":"black"},"encoding":{"y":{"field":"ref","type":"quantitative","scale":{"domain":[-2.8,3.4],"nice":false,"zero":false},"axis":null}}}
     ]},
    {"width":467,"height":248,"title":{"text":"Summer","anchor":"start","frame":"group","fontSize":27,"fontWeight":"bold","color":"black","offset":6,"dx":7},
     "resolve":{"axis":{"x":"independent","y":"independent"}},
     "layer":[
      {"data":{"name":"violin"},"transform":[{"filter":"datum.season === 'Summer'"},{"calculate":"indexof(['85','86','91','04','05','17','20','21','22'], datum.year) + 1","as":"pos"},{"calculate":"datum.pos - datum.w","as":"lo"},{"calculate":"datum.pos + datum.w","as":"hi"}],
       "mark":{"type":"area","orient":"horizontal","interpolate":"monotone","fill":"#E6C4FA","stroke":"#262626","strokeWidth":1.3},
       "encoding":{"y":{"field":"v","type":"quantitative","scale":{"domain":[-2.8,3.4],"nice":false,"zero":false},"axis":null},"x":{"field":"lo","type":"quantitative","scale":{"domain":[0.4,9.6],"nice":false,"zero":false},"axis":{"orient":"bottom","values":[1,2,3,4,5,6,7,8,9],"labelExpr":"['85','86','91','04','05','17','20','21','22'][datum.value - 1]","labelAngle":-45,"labelAlign":"right","labelBaseline":"middle","labelFontSize":26,"labelColor":"#4D4D4D","labelPadding":3,"grid":false,"domain":true,"domainColor":"black","domainWidth":1.8,"ticks":true,"tickColor":"black","tickSize":5,"tickWidth":1.2,"labels":true,"title":null},"stack":null},"x2":{"field":"hi"},"detail":{"field":"year","type":"nominal"}}},
      {"data":{"name":"box"},"transform":[{"filter":"datum.season === 'Summer'"},{"calculate":"indexof(['85','86','91','04','05','17','20','21','22'], datum.year) + 1","as":"pos"}],"mark":{"type":"rule","color":"#262626","strokeWidth":1},"encoding":{"x":{"field":"pos","type":"quantitative","scale":{"domain":[0.4,9.6],"nice":false,"zero":false},"axis":null},"y":{"field":"lw","type":"quantitative","scale":{"domain":[-2.8,3.4],"nice":false,"zero":false},"axis":null},"y2":{"field":"uw"}}},
      {"data":{"name":"box"},"transform":[{"filter":"datum.season === 'Summer'"},{"calculate":"indexof(['85','86','91','04','05','17','20','21','22'], datum.year) + 1","as":"pos"}],"mark":{"type":"bar","size":6,"fill":"#C77CFF","stroke":"#262626","strokeWidth":1},"encoding":{"x":{"field":"pos","type":"quantitative","scale":{"domain":[0.4,9.6],"nice":false,"zero":false},"axis":null},"y":{"field":"q1","type":"quantitative","scale":{"domain":[-2.8,3.4],"nice":false,"zero":false},"axis":null},"y2":{"field":"q3"}}},
      {"data":{"name":"box"},"transform":[{"filter":"datum.season === 'Summer'"},{"calculate":"indexof(['85','86','91','04','05','17','20','21','22'], datum.year) + 1","as":"pos"}],"mark":{"type":"tick","orient":"horizontal","size":6,"thickness":2.5,"color":"#262626"},"encoding":{"x":{"field":"pos","type":"quantitative","scale":{"domain":[0.4,9.6],"nice":false,"zero":false},"axis":null},"y":{"field":"med","type":"quantitative","scale":{"domain":[-2.8,3.4],"nice":false,"zero":false},"axis":null}}},
      {"data":{"name":"outliers"},"transform":[{"filter":"datum.season === 'Summer'"},{"calculate":"indexof(['85','86','91','04','05','17','20','21','22'], datum.year) + 1","as":"pos"}],"mark":{"type":"point","filled":true,"size":60,"color":"#262626","opacity":1},"encoding":{"x":{"field":"pos","type":"quantitative","scale":{"domain":[0.4,9.6],"nice":false,"zero":false},"axis":null},"y":{"field":"v","type":"quantitative","scale":{"domain":[-2.8,3.4],"nice":false,"zero":false},"axis":null}}},
      {"data":{"values":[{"ref":0}]},"mark":{"type":"rule","strokeDash":[8,6],"strokeWidth":1.5,"color":"black"},"encoding":{"y":{"field":"ref","type":"quantitative","scale":{"domain":[-2.8,3.4],"nice":false,"zero":false},"axis":null}}}
     ]}
   ]}
  ]}
 ]}
]}
]
}
